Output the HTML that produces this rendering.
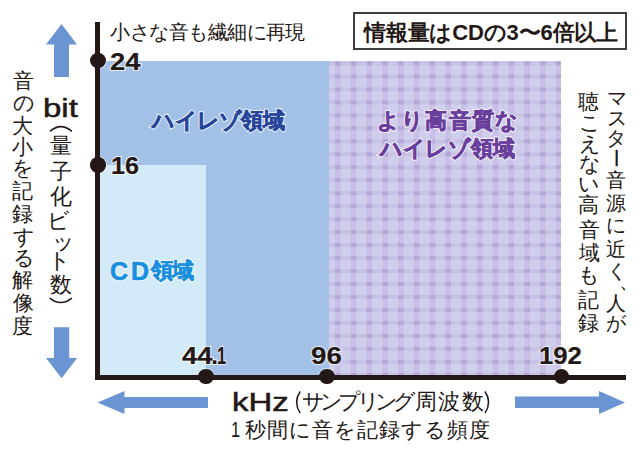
<!DOCTYPE html>
<html><head><meta charset="utf-8">
<style>
html,body{margin:0;padding:0;background:#fff;}
body{width:640px;height:452px;position:relative;overflow:hidden;font-family:"Liberation Sans",sans-serif;color:#231815;}
.a{position:absolute;white-space:nowrap;}
.t{line-height:1;transform-origin:0 0;}
</style></head><body>

<div class="a" style="left:97px;top:61px;width:232px;height:315px;background:#a3c1e6"></div>
<div class="a" style="left:97px;top:165px;width:109px;height:211px;background:#d3ebf9"></div>
<svg class="a" style="left:329px;top:61px" width="232" height="315">
<rect x="0" y="0" width="232" height="315" fill="#cfcfed"/>
<rect x="5.90" y="0" width="5.7" height="315" fill="#c8c1e5"/>
<rect x="21.68" y="0" width="5.7" height="315" fill="#c8c1e5"/>
<rect x="37.46" y="0" width="5.7" height="315" fill="#c8c1e5"/>
<rect x="53.24" y="0" width="5.7" height="315" fill="#c8c1e5"/>
<rect x="69.02" y="0" width="5.7" height="315" fill="#c8c1e5"/>
<rect x="84.80" y="0" width="5.7" height="315" fill="#c8c1e5"/>
<rect x="100.58" y="0" width="5.7" height="315" fill="#c8c1e5"/>
<rect x="116.36" y="0" width="5.7" height="315" fill="#c8c1e5"/>
<rect x="132.14" y="0" width="5.7" height="315" fill="#c8c1e5"/>
<rect x="147.92" y="0" width="5.7" height="315" fill="#c8c1e5"/>
<rect x="163.70" y="0" width="5.7" height="315" fill="#c8c1e5"/>
<rect x="179.48" y="0" width="5.7" height="315" fill="#c8c1e5"/>
<rect x="195.26" y="0" width="5.7" height="315" fill="#c8c1e5"/>
<rect x="211.04" y="0" width="5.7" height="315" fill="#c8c1e5"/>
<rect x="226.82" y="0" width="5.7" height="315" fill="#c8c1e5"/>
<rect x="0" y="0.50" width="232" height="4" fill="#cac2e5"/>
<rect x="0" y="13.47" width="232" height="4" fill="#cac2e5"/>
<rect x="0" y="26.44" width="232" height="4" fill="#cac2e5"/>
<rect x="0" y="39.41" width="232" height="4" fill="#cac2e5"/>
<rect x="0" y="52.38" width="232" height="4" fill="#cac2e5"/>
<rect x="0" y="65.35" width="232" height="4" fill="#cac2e5"/>
<rect x="0" y="78.32" width="232" height="4" fill="#cac2e5"/>
<rect x="0" y="91.29" width="232" height="4" fill="#cac2e5"/>
<rect x="0" y="104.26" width="232" height="4" fill="#cac2e5"/>
<rect x="0" y="117.23" width="232" height="4" fill="#cac2e5"/>
<rect x="0" y="130.20" width="232" height="4" fill="#cac2e5"/>
<rect x="0" y="143.17" width="232" height="4" fill="#cac2e5"/>
<rect x="0" y="156.14" width="232" height="4" fill="#cac2e5"/>
<rect x="0" y="169.11" width="232" height="4" fill="#cac2e5"/>
<rect x="0" y="182.08" width="232" height="4" fill="#cac2e5"/>
<rect x="0" y="195.05" width="232" height="4" fill="#cac2e5"/>
<rect x="0" y="208.02" width="232" height="4" fill="#cac2e5"/>
<rect x="0" y="220.99" width="232" height="4" fill="#cac2e5"/>
<rect x="0" y="233.96" width="232" height="4" fill="#cac2e5"/>
<rect x="0" y="246.93" width="232" height="4" fill="#cac2e5"/>
<rect x="0" y="259.90" width="232" height="4" fill="#cac2e5"/>
<rect x="0" y="272.87" width="232" height="4" fill="#cac2e5"/>
<rect x="0" y="285.84" width="232" height="4" fill="#cac2e5"/>
<rect x="0" y="298.81" width="232" height="4" fill="#cac2e5"/>
<rect x="0" y="311.78" width="232" height="4" fill="#cac2e5"/>
<rect x="5.90" y="0.50" width="5.7" height="4" fill="#b3a7da"/>
<rect x="5.90" y="13.47" width="5.7" height="4" fill="#b3a7da"/>
<rect x="5.90" y="26.44" width="5.7" height="4" fill="#b3a7da"/>
<rect x="5.90" y="39.41" width="5.7" height="4" fill="#b3a7da"/>
<rect x="5.90" y="52.38" width="5.7" height="4" fill="#b3a7da"/>
<rect x="5.90" y="65.35" width="5.7" height="4" fill="#b3a7da"/>
<rect x="5.90" y="78.32" width="5.7" height="4" fill="#b3a7da"/>
<rect x="5.90" y="91.29" width="5.7" height="4" fill="#b3a7da"/>
<rect x="5.90" y="104.26" width="5.7" height="4" fill="#b3a7da"/>
<rect x="5.90" y="117.23" width="5.7" height="4" fill="#b3a7da"/>
<rect x="5.90" y="130.20" width="5.7" height="4" fill="#b3a7da"/>
<rect x="5.90" y="143.17" width="5.7" height="4" fill="#b3a7da"/>
<rect x="5.90" y="156.14" width="5.7" height="4" fill="#b3a7da"/>
<rect x="5.90" y="169.11" width="5.7" height="4" fill="#b3a7da"/>
<rect x="5.90" y="182.08" width="5.7" height="4" fill="#b3a7da"/>
<rect x="5.90" y="195.05" width="5.7" height="4" fill="#b3a7da"/>
<rect x="5.90" y="208.02" width="5.7" height="4" fill="#b3a7da"/>
<rect x="5.90" y="220.99" width="5.7" height="4" fill="#b3a7da"/>
<rect x="5.90" y="233.96" width="5.7" height="4" fill="#b3a7da"/>
<rect x="5.90" y="246.93" width="5.7" height="4" fill="#b3a7da"/>
<rect x="5.90" y="259.90" width="5.7" height="4" fill="#b3a7da"/>
<rect x="5.90" y="272.87" width="5.7" height="4" fill="#b3a7da"/>
<rect x="5.90" y="285.84" width="5.7" height="4" fill="#b3a7da"/>
<rect x="5.90" y="298.81" width="5.7" height="4" fill="#b3a7da"/>
<rect x="5.90" y="311.78" width="5.7" height="4" fill="#b3a7da"/>
<rect x="21.68" y="0.50" width="5.7" height="4" fill="#b3a7da"/>
<rect x="21.68" y="13.47" width="5.7" height="4" fill="#b3a7da"/>
<rect x="21.68" y="26.44" width="5.7" height="4" fill="#b3a7da"/>
<rect x="21.68" y="39.41" width="5.7" height="4" fill="#b3a7da"/>
<rect x="21.68" y="52.38" width="5.7" height="4" fill="#b3a7da"/>
<rect x="21.68" y="65.35" width="5.7" height="4" fill="#b3a7da"/>
<rect x="21.68" y="78.32" width="5.7" height="4" fill="#b3a7da"/>
<rect x="21.68" y="91.29" width="5.7" height="4" fill="#b3a7da"/>
<rect x="21.68" y="104.26" width="5.7" height="4" fill="#b3a7da"/>
<rect x="21.68" y="117.23" width="5.7" height="4" fill="#b3a7da"/>
<rect x="21.68" y="130.20" width="5.7" height="4" fill="#b3a7da"/>
<rect x="21.68" y="143.17" width="5.7" height="4" fill="#b3a7da"/>
<rect x="21.68" y="156.14" width="5.7" height="4" fill="#b3a7da"/>
<rect x="21.68" y="169.11" width="5.7" height="4" fill="#b3a7da"/>
<rect x="21.68" y="182.08" width="5.7" height="4" fill="#b3a7da"/>
<rect x="21.68" y="195.05" width="5.7" height="4" fill="#b3a7da"/>
<rect x="21.68" y="208.02" width="5.7" height="4" fill="#b3a7da"/>
<rect x="21.68" y="220.99" width="5.7" height="4" fill="#b3a7da"/>
<rect x="21.68" y="233.96" width="5.7" height="4" fill="#b3a7da"/>
<rect x="21.68" y="246.93" width="5.7" height="4" fill="#b3a7da"/>
<rect x="21.68" y="259.90" width="5.7" height="4" fill="#b3a7da"/>
<rect x="21.68" y="272.87" width="5.7" height="4" fill="#b3a7da"/>
<rect x="21.68" y="285.84" width="5.7" height="4" fill="#b3a7da"/>
<rect x="21.68" y="298.81" width="5.7" height="4" fill="#b3a7da"/>
<rect x="21.68" y="311.78" width="5.7" height="4" fill="#b3a7da"/>
<rect x="37.46" y="0.50" width="5.7" height="4" fill="#b3a7da"/>
<rect x="37.46" y="13.47" width="5.7" height="4" fill="#b3a7da"/>
<rect x="37.46" y="26.44" width="5.7" height="4" fill="#b3a7da"/>
<rect x="37.46" y="39.41" width="5.7" height="4" fill="#b3a7da"/>
<rect x="37.46" y="52.38" width="5.7" height="4" fill="#b3a7da"/>
<rect x="37.46" y="65.35" width="5.7" height="4" fill="#b3a7da"/>
<rect x="37.46" y="78.32" width="5.7" height="4" fill="#b3a7da"/>
<rect x="37.46" y="91.29" width="5.7" height="4" fill="#b3a7da"/>
<rect x="37.46" y="104.26" width="5.7" height="4" fill="#b3a7da"/>
<rect x="37.46" y="117.23" width="5.7" height="4" fill="#b3a7da"/>
<rect x="37.46" y="130.20" width="5.7" height="4" fill="#b3a7da"/>
<rect x="37.46" y="143.17" width="5.7" height="4" fill="#b3a7da"/>
<rect x="37.46" y="156.14" width="5.7" height="4" fill="#b3a7da"/>
<rect x="37.46" y="169.11" width="5.7" height="4" fill="#b3a7da"/>
<rect x="37.46" y="182.08" width="5.7" height="4" fill="#b3a7da"/>
<rect x="37.46" y="195.05" width="5.7" height="4" fill="#b3a7da"/>
<rect x="37.46" y="208.02" width="5.7" height="4" fill="#b3a7da"/>
<rect x="37.46" y="220.99" width="5.7" height="4" fill="#b3a7da"/>
<rect x="37.46" y="233.96" width="5.7" height="4" fill="#b3a7da"/>
<rect x="37.46" y="246.93" width="5.7" height="4" fill="#b3a7da"/>
<rect x="37.46" y="259.90" width="5.7" height="4" fill="#b3a7da"/>
<rect x="37.46" y="272.87" width="5.7" height="4" fill="#b3a7da"/>
<rect x="37.46" y="285.84" width="5.7" height="4" fill="#b3a7da"/>
<rect x="37.46" y="298.81" width="5.7" height="4" fill="#b3a7da"/>
<rect x="37.46" y="311.78" width="5.7" height="4" fill="#b3a7da"/>
<rect x="53.24" y="0.50" width="5.7" height="4" fill="#b3a7da"/>
<rect x="53.24" y="13.47" width="5.7" height="4" fill="#b3a7da"/>
<rect x="53.24" y="26.44" width="5.7" height="4" fill="#b3a7da"/>
<rect x="53.24" y="39.41" width="5.7" height="4" fill="#b3a7da"/>
<rect x="53.24" y="52.38" width="5.7" height="4" fill="#b3a7da"/>
<rect x="53.24" y="65.35" width="5.7" height="4" fill="#b3a7da"/>
<rect x="53.24" y="78.32" width="5.7" height="4" fill="#b3a7da"/>
<rect x="53.24" y="91.29" width="5.7" height="4" fill="#b3a7da"/>
<rect x="53.24" y="104.26" width="5.7" height="4" fill="#b3a7da"/>
<rect x="53.24" y="117.23" width="5.7" height="4" fill="#b3a7da"/>
<rect x="53.24" y="130.20" width="5.7" height="4" fill="#b3a7da"/>
<rect x="53.24" y="143.17" width="5.7" height="4" fill="#b3a7da"/>
<rect x="53.24" y="156.14" width="5.7" height="4" fill="#b3a7da"/>
<rect x="53.24" y="169.11" width="5.7" height="4" fill="#b3a7da"/>
<rect x="53.24" y="182.08" width="5.7" height="4" fill="#b3a7da"/>
<rect x="53.24" y="195.05" width="5.7" height="4" fill="#b3a7da"/>
<rect x="53.24" y="208.02" width="5.7" height="4" fill="#b3a7da"/>
<rect x="53.24" y="220.99" width="5.7" height="4" fill="#b3a7da"/>
<rect x="53.24" y="233.96" width="5.7" height="4" fill="#b3a7da"/>
<rect x="53.24" y="246.93" width="5.7" height="4" fill="#b3a7da"/>
<rect x="53.24" y="259.90" width="5.7" height="4" fill="#b3a7da"/>
<rect x="53.24" y="272.87" width="5.7" height="4" fill="#b3a7da"/>
<rect x="53.24" y="285.84" width="5.7" height="4" fill="#b3a7da"/>
<rect x="53.24" y="298.81" width="5.7" height="4" fill="#b3a7da"/>
<rect x="53.24" y="311.78" width="5.7" height="4" fill="#b3a7da"/>
<rect x="69.02" y="0.50" width="5.7" height="4" fill="#b3a7da"/>
<rect x="69.02" y="13.47" width="5.7" height="4" fill="#b3a7da"/>
<rect x="69.02" y="26.44" width="5.7" height="4" fill="#b3a7da"/>
<rect x="69.02" y="39.41" width="5.7" height="4" fill="#b3a7da"/>
<rect x="69.02" y="52.38" width="5.7" height="4" fill="#b3a7da"/>
<rect x="69.02" y="65.35" width="5.7" height="4" fill="#b3a7da"/>
<rect x="69.02" y="78.32" width="5.7" height="4" fill="#b3a7da"/>
<rect x="69.02" y="91.29" width="5.7" height="4" fill="#b3a7da"/>
<rect x="69.02" y="104.26" width="5.7" height="4" fill="#b3a7da"/>
<rect x="69.02" y="117.23" width="5.7" height="4" fill="#b3a7da"/>
<rect x="69.02" y="130.20" width="5.7" height="4" fill="#b3a7da"/>
<rect x="69.02" y="143.17" width="5.7" height="4" fill="#b3a7da"/>
<rect x="69.02" y="156.14" width="5.7" height="4" fill="#b3a7da"/>
<rect x="69.02" y="169.11" width="5.7" height="4" fill="#b3a7da"/>
<rect x="69.02" y="182.08" width="5.7" height="4" fill="#b3a7da"/>
<rect x="69.02" y="195.05" width="5.7" height="4" fill="#b3a7da"/>
<rect x="69.02" y="208.02" width="5.7" height="4" fill="#b3a7da"/>
<rect x="69.02" y="220.99" width="5.7" height="4" fill="#b3a7da"/>
<rect x="69.02" y="233.96" width="5.7" height="4" fill="#b3a7da"/>
<rect x="69.02" y="246.93" width="5.7" height="4" fill="#b3a7da"/>
<rect x="69.02" y="259.90" width="5.7" height="4" fill="#b3a7da"/>
<rect x="69.02" y="272.87" width="5.7" height="4" fill="#b3a7da"/>
<rect x="69.02" y="285.84" width="5.7" height="4" fill="#b3a7da"/>
<rect x="69.02" y="298.81" width="5.7" height="4" fill="#b3a7da"/>
<rect x="69.02" y="311.78" width="5.7" height="4" fill="#b3a7da"/>
<rect x="84.80" y="0.50" width="5.7" height="4" fill="#b3a7da"/>
<rect x="84.80" y="13.47" width="5.7" height="4" fill="#b3a7da"/>
<rect x="84.80" y="26.44" width="5.7" height="4" fill="#b3a7da"/>
<rect x="84.80" y="39.41" width="5.7" height="4" fill="#b3a7da"/>
<rect x="84.80" y="52.38" width="5.7" height="4" fill="#b3a7da"/>
<rect x="84.80" y="65.35" width="5.7" height="4" fill="#b3a7da"/>
<rect x="84.80" y="78.32" width="5.7" height="4" fill="#b3a7da"/>
<rect x="84.80" y="91.29" width="5.7" height="4" fill="#b3a7da"/>
<rect x="84.80" y="104.26" width="5.7" height="4" fill="#b3a7da"/>
<rect x="84.80" y="117.23" width="5.7" height="4" fill="#b3a7da"/>
<rect x="84.80" y="130.20" width="5.7" height="4" fill="#b3a7da"/>
<rect x="84.80" y="143.17" width="5.7" height="4" fill="#b3a7da"/>
<rect x="84.80" y="156.14" width="5.7" height="4" fill="#b3a7da"/>
<rect x="84.80" y="169.11" width="5.7" height="4" fill="#b3a7da"/>
<rect x="84.80" y="182.08" width="5.7" height="4" fill="#b3a7da"/>
<rect x="84.80" y="195.05" width="5.7" height="4" fill="#b3a7da"/>
<rect x="84.80" y="208.02" width="5.7" height="4" fill="#b3a7da"/>
<rect x="84.80" y="220.99" width="5.7" height="4" fill="#b3a7da"/>
<rect x="84.80" y="233.96" width="5.7" height="4" fill="#b3a7da"/>
<rect x="84.80" y="246.93" width="5.7" height="4" fill="#b3a7da"/>
<rect x="84.80" y="259.90" width="5.7" height="4" fill="#b3a7da"/>
<rect x="84.80" y="272.87" width="5.7" height="4" fill="#b3a7da"/>
<rect x="84.80" y="285.84" width="5.7" height="4" fill="#b3a7da"/>
<rect x="84.80" y="298.81" width="5.7" height="4" fill="#b3a7da"/>
<rect x="84.80" y="311.78" width="5.7" height="4" fill="#b3a7da"/>
<rect x="100.58" y="0.50" width="5.7" height="4" fill="#b3a7da"/>
<rect x="100.58" y="13.47" width="5.7" height="4" fill="#b3a7da"/>
<rect x="100.58" y="26.44" width="5.7" height="4" fill="#b3a7da"/>
<rect x="100.58" y="39.41" width="5.7" height="4" fill="#b3a7da"/>
<rect x="100.58" y="52.38" width="5.7" height="4" fill="#b3a7da"/>
<rect x="100.58" y="65.35" width="5.7" height="4" fill="#b3a7da"/>
<rect x="100.58" y="78.32" width="5.7" height="4" fill="#b3a7da"/>
<rect x="100.58" y="91.29" width="5.7" height="4" fill="#b3a7da"/>
<rect x="100.58" y="104.26" width="5.7" height="4" fill="#b3a7da"/>
<rect x="100.58" y="117.23" width="5.7" height="4" fill="#b3a7da"/>
<rect x="100.58" y="130.20" width="5.7" height="4" fill="#b3a7da"/>
<rect x="100.58" y="143.17" width="5.7" height="4" fill="#b3a7da"/>
<rect x="100.58" y="156.14" width="5.7" height="4" fill="#b3a7da"/>
<rect x="100.58" y="169.11" width="5.7" height="4" fill="#b3a7da"/>
<rect x="100.58" y="182.08" width="5.7" height="4" fill="#b3a7da"/>
<rect x="100.58" y="195.05" width="5.7" height="4" fill="#b3a7da"/>
<rect x="100.58" y="208.02" width="5.7" height="4" fill="#b3a7da"/>
<rect x="100.58" y="220.99" width="5.7" height="4" fill="#b3a7da"/>
<rect x="100.58" y="233.96" width="5.7" height="4" fill="#b3a7da"/>
<rect x="100.58" y="246.93" width="5.7" height="4" fill="#b3a7da"/>
<rect x="100.58" y="259.90" width="5.7" height="4" fill="#b3a7da"/>
<rect x="100.58" y="272.87" width="5.7" height="4" fill="#b3a7da"/>
<rect x="100.58" y="285.84" width="5.7" height="4" fill="#b3a7da"/>
<rect x="100.58" y="298.81" width="5.7" height="4" fill="#b3a7da"/>
<rect x="100.58" y="311.78" width="5.7" height="4" fill="#b3a7da"/>
<rect x="116.36" y="0.50" width="5.7" height="4" fill="#b3a7da"/>
<rect x="116.36" y="13.47" width="5.7" height="4" fill="#b3a7da"/>
<rect x="116.36" y="26.44" width="5.7" height="4" fill="#b3a7da"/>
<rect x="116.36" y="39.41" width="5.7" height="4" fill="#b3a7da"/>
<rect x="116.36" y="52.38" width="5.7" height="4" fill="#b3a7da"/>
<rect x="116.36" y="65.35" width="5.7" height="4" fill="#b3a7da"/>
<rect x="116.36" y="78.32" width="5.7" height="4" fill="#b3a7da"/>
<rect x="116.36" y="91.29" width="5.7" height="4" fill="#b3a7da"/>
<rect x="116.36" y="104.26" width="5.7" height="4" fill="#b3a7da"/>
<rect x="116.36" y="117.23" width="5.7" height="4" fill="#b3a7da"/>
<rect x="116.36" y="130.20" width="5.7" height="4" fill="#b3a7da"/>
<rect x="116.36" y="143.17" width="5.7" height="4" fill="#b3a7da"/>
<rect x="116.36" y="156.14" width="5.7" height="4" fill="#b3a7da"/>
<rect x="116.36" y="169.11" width="5.7" height="4" fill="#b3a7da"/>
<rect x="116.36" y="182.08" width="5.7" height="4" fill="#b3a7da"/>
<rect x="116.36" y="195.05" width="5.7" height="4" fill="#b3a7da"/>
<rect x="116.36" y="208.02" width="5.7" height="4" fill="#b3a7da"/>
<rect x="116.36" y="220.99" width="5.7" height="4" fill="#b3a7da"/>
<rect x="116.36" y="233.96" width="5.7" height="4" fill="#b3a7da"/>
<rect x="116.36" y="246.93" width="5.7" height="4" fill="#b3a7da"/>
<rect x="116.36" y="259.90" width="5.7" height="4" fill="#b3a7da"/>
<rect x="116.36" y="272.87" width="5.7" height="4" fill="#b3a7da"/>
<rect x="116.36" y="285.84" width="5.7" height="4" fill="#b3a7da"/>
<rect x="116.36" y="298.81" width="5.7" height="4" fill="#b3a7da"/>
<rect x="116.36" y="311.78" width="5.7" height="4" fill="#b3a7da"/>
<rect x="132.14" y="0.50" width="5.7" height="4" fill="#b3a7da"/>
<rect x="132.14" y="13.47" width="5.7" height="4" fill="#b3a7da"/>
<rect x="132.14" y="26.44" width="5.7" height="4" fill="#b3a7da"/>
<rect x="132.14" y="39.41" width="5.7" height="4" fill="#b3a7da"/>
<rect x="132.14" y="52.38" width="5.7" height="4" fill="#b3a7da"/>
<rect x="132.14" y="65.35" width="5.7" height="4" fill="#b3a7da"/>
<rect x="132.14" y="78.32" width="5.7" height="4" fill="#b3a7da"/>
<rect x="132.14" y="91.29" width="5.7" height="4" fill="#b3a7da"/>
<rect x="132.14" y="104.26" width="5.7" height="4" fill="#b3a7da"/>
<rect x="132.14" y="117.23" width="5.7" height="4" fill="#b3a7da"/>
<rect x="132.14" y="130.20" width="5.7" height="4" fill="#b3a7da"/>
<rect x="132.14" y="143.17" width="5.7" height="4" fill="#b3a7da"/>
<rect x="132.14" y="156.14" width="5.7" height="4" fill="#b3a7da"/>
<rect x="132.14" y="169.11" width="5.7" height="4" fill="#b3a7da"/>
<rect x="132.14" y="182.08" width="5.7" height="4" fill="#b3a7da"/>
<rect x="132.14" y="195.05" width="5.7" height="4" fill="#b3a7da"/>
<rect x="132.14" y="208.02" width="5.7" height="4" fill="#b3a7da"/>
<rect x="132.14" y="220.99" width="5.7" height="4" fill="#b3a7da"/>
<rect x="132.14" y="233.96" width="5.7" height="4" fill="#b3a7da"/>
<rect x="132.14" y="246.93" width="5.7" height="4" fill="#b3a7da"/>
<rect x="132.14" y="259.90" width="5.7" height="4" fill="#b3a7da"/>
<rect x="132.14" y="272.87" width="5.7" height="4" fill="#b3a7da"/>
<rect x="132.14" y="285.84" width="5.7" height="4" fill="#b3a7da"/>
<rect x="132.14" y="298.81" width="5.7" height="4" fill="#b3a7da"/>
<rect x="132.14" y="311.78" width="5.7" height="4" fill="#b3a7da"/>
<rect x="147.92" y="0.50" width="5.7" height="4" fill="#b3a7da"/>
<rect x="147.92" y="13.47" width="5.7" height="4" fill="#b3a7da"/>
<rect x="147.92" y="26.44" width="5.7" height="4" fill="#b3a7da"/>
<rect x="147.92" y="39.41" width="5.7" height="4" fill="#b3a7da"/>
<rect x="147.92" y="52.38" width="5.7" height="4" fill="#b3a7da"/>
<rect x="147.92" y="65.35" width="5.7" height="4" fill="#b3a7da"/>
<rect x="147.92" y="78.32" width="5.7" height="4" fill="#b3a7da"/>
<rect x="147.92" y="91.29" width="5.7" height="4" fill="#b3a7da"/>
<rect x="147.92" y="104.26" width="5.7" height="4" fill="#b3a7da"/>
<rect x="147.92" y="117.23" width="5.7" height="4" fill="#b3a7da"/>
<rect x="147.92" y="130.20" width="5.7" height="4" fill="#b3a7da"/>
<rect x="147.92" y="143.17" width="5.7" height="4" fill="#b3a7da"/>
<rect x="147.92" y="156.14" width="5.7" height="4" fill="#b3a7da"/>
<rect x="147.92" y="169.11" width="5.7" height="4" fill="#b3a7da"/>
<rect x="147.92" y="182.08" width="5.7" height="4" fill="#b3a7da"/>
<rect x="147.92" y="195.05" width="5.7" height="4" fill="#b3a7da"/>
<rect x="147.92" y="208.02" width="5.7" height="4" fill="#b3a7da"/>
<rect x="147.92" y="220.99" width="5.7" height="4" fill="#b3a7da"/>
<rect x="147.92" y="233.96" width="5.7" height="4" fill="#b3a7da"/>
<rect x="147.92" y="246.93" width="5.7" height="4" fill="#b3a7da"/>
<rect x="147.92" y="259.90" width="5.7" height="4" fill="#b3a7da"/>
<rect x="147.92" y="272.87" width="5.7" height="4" fill="#b3a7da"/>
<rect x="147.92" y="285.84" width="5.7" height="4" fill="#b3a7da"/>
<rect x="147.92" y="298.81" width="5.7" height="4" fill="#b3a7da"/>
<rect x="147.92" y="311.78" width="5.7" height="4" fill="#b3a7da"/>
<rect x="163.70" y="0.50" width="5.7" height="4" fill="#b3a7da"/>
<rect x="163.70" y="13.47" width="5.7" height="4" fill="#b3a7da"/>
<rect x="163.70" y="26.44" width="5.7" height="4" fill="#b3a7da"/>
<rect x="163.70" y="39.41" width="5.7" height="4" fill="#b3a7da"/>
<rect x="163.70" y="52.38" width="5.7" height="4" fill="#b3a7da"/>
<rect x="163.70" y="65.35" width="5.7" height="4" fill="#b3a7da"/>
<rect x="163.70" y="78.32" width="5.7" height="4" fill="#b3a7da"/>
<rect x="163.70" y="91.29" width="5.7" height="4" fill="#b3a7da"/>
<rect x="163.70" y="104.26" width="5.7" height="4" fill="#b3a7da"/>
<rect x="163.70" y="117.23" width="5.7" height="4" fill="#b3a7da"/>
<rect x="163.70" y="130.20" width="5.7" height="4" fill="#b3a7da"/>
<rect x="163.70" y="143.17" width="5.7" height="4" fill="#b3a7da"/>
<rect x="163.70" y="156.14" width="5.7" height="4" fill="#b3a7da"/>
<rect x="163.70" y="169.11" width="5.7" height="4" fill="#b3a7da"/>
<rect x="163.70" y="182.08" width="5.7" height="4" fill="#b3a7da"/>
<rect x="163.70" y="195.05" width="5.7" height="4" fill="#b3a7da"/>
<rect x="163.70" y="208.02" width="5.7" height="4" fill="#b3a7da"/>
<rect x="163.70" y="220.99" width="5.7" height="4" fill="#b3a7da"/>
<rect x="163.70" y="233.96" width="5.7" height="4" fill="#b3a7da"/>
<rect x="163.70" y="246.93" width="5.7" height="4" fill="#b3a7da"/>
<rect x="163.70" y="259.90" width="5.7" height="4" fill="#b3a7da"/>
<rect x="163.70" y="272.87" width="5.7" height="4" fill="#b3a7da"/>
<rect x="163.70" y="285.84" width="5.7" height="4" fill="#b3a7da"/>
<rect x="163.70" y="298.81" width="5.7" height="4" fill="#b3a7da"/>
<rect x="163.70" y="311.78" width="5.7" height="4" fill="#b3a7da"/>
<rect x="179.48" y="0.50" width="5.7" height="4" fill="#b3a7da"/>
<rect x="179.48" y="13.47" width="5.7" height="4" fill="#b3a7da"/>
<rect x="179.48" y="26.44" width="5.7" height="4" fill="#b3a7da"/>
<rect x="179.48" y="39.41" width="5.7" height="4" fill="#b3a7da"/>
<rect x="179.48" y="52.38" width="5.7" height="4" fill="#b3a7da"/>
<rect x="179.48" y="65.35" width="5.7" height="4" fill="#b3a7da"/>
<rect x="179.48" y="78.32" width="5.7" height="4" fill="#b3a7da"/>
<rect x="179.48" y="91.29" width="5.7" height="4" fill="#b3a7da"/>
<rect x="179.48" y="104.26" width="5.7" height="4" fill="#b3a7da"/>
<rect x="179.48" y="117.23" width="5.7" height="4" fill="#b3a7da"/>
<rect x="179.48" y="130.20" width="5.7" height="4" fill="#b3a7da"/>
<rect x="179.48" y="143.17" width="5.7" height="4" fill="#b3a7da"/>
<rect x="179.48" y="156.14" width="5.7" height="4" fill="#b3a7da"/>
<rect x="179.48" y="169.11" width="5.7" height="4" fill="#b3a7da"/>
<rect x="179.48" y="182.08" width="5.7" height="4" fill="#b3a7da"/>
<rect x="179.48" y="195.05" width="5.7" height="4" fill="#b3a7da"/>
<rect x="179.48" y="208.02" width="5.7" height="4" fill="#b3a7da"/>
<rect x="179.48" y="220.99" width="5.7" height="4" fill="#b3a7da"/>
<rect x="179.48" y="233.96" width="5.7" height="4" fill="#b3a7da"/>
<rect x="179.48" y="246.93" width="5.7" height="4" fill="#b3a7da"/>
<rect x="179.48" y="259.90" width="5.7" height="4" fill="#b3a7da"/>
<rect x="179.48" y="272.87" width="5.7" height="4" fill="#b3a7da"/>
<rect x="179.48" y="285.84" width="5.7" height="4" fill="#b3a7da"/>
<rect x="179.48" y="298.81" width="5.7" height="4" fill="#b3a7da"/>
<rect x="179.48" y="311.78" width="5.7" height="4" fill="#b3a7da"/>
<rect x="195.26" y="0.50" width="5.7" height="4" fill="#b3a7da"/>
<rect x="195.26" y="13.47" width="5.7" height="4" fill="#b3a7da"/>
<rect x="195.26" y="26.44" width="5.7" height="4" fill="#b3a7da"/>
<rect x="195.26" y="39.41" width="5.7" height="4" fill="#b3a7da"/>
<rect x="195.26" y="52.38" width="5.7" height="4" fill="#b3a7da"/>
<rect x="195.26" y="65.35" width="5.7" height="4" fill="#b3a7da"/>
<rect x="195.26" y="78.32" width="5.7" height="4" fill="#b3a7da"/>
<rect x="195.26" y="91.29" width="5.7" height="4" fill="#b3a7da"/>
<rect x="195.26" y="104.26" width="5.7" height="4" fill="#b3a7da"/>
<rect x="195.26" y="117.23" width="5.7" height="4" fill="#b3a7da"/>
<rect x="195.26" y="130.20" width="5.7" height="4" fill="#b3a7da"/>
<rect x="195.26" y="143.17" width="5.7" height="4" fill="#b3a7da"/>
<rect x="195.26" y="156.14" width="5.7" height="4" fill="#b3a7da"/>
<rect x="195.26" y="169.11" width="5.7" height="4" fill="#b3a7da"/>
<rect x="195.26" y="182.08" width="5.7" height="4" fill="#b3a7da"/>
<rect x="195.26" y="195.05" width="5.7" height="4" fill="#b3a7da"/>
<rect x="195.26" y="208.02" width="5.7" height="4" fill="#b3a7da"/>
<rect x="195.26" y="220.99" width="5.7" height="4" fill="#b3a7da"/>
<rect x="195.26" y="233.96" width="5.7" height="4" fill="#b3a7da"/>
<rect x="195.26" y="246.93" width="5.7" height="4" fill="#b3a7da"/>
<rect x="195.26" y="259.90" width="5.7" height="4" fill="#b3a7da"/>
<rect x="195.26" y="272.87" width="5.7" height="4" fill="#b3a7da"/>
<rect x="195.26" y="285.84" width="5.7" height="4" fill="#b3a7da"/>
<rect x="195.26" y="298.81" width="5.7" height="4" fill="#b3a7da"/>
<rect x="195.26" y="311.78" width="5.7" height="4" fill="#b3a7da"/>
<rect x="211.04" y="0.50" width="5.7" height="4" fill="#b3a7da"/>
<rect x="211.04" y="13.47" width="5.7" height="4" fill="#b3a7da"/>
<rect x="211.04" y="26.44" width="5.7" height="4" fill="#b3a7da"/>
<rect x="211.04" y="39.41" width="5.7" height="4" fill="#b3a7da"/>
<rect x="211.04" y="52.38" width="5.7" height="4" fill="#b3a7da"/>
<rect x="211.04" y="65.35" width="5.7" height="4" fill="#b3a7da"/>
<rect x="211.04" y="78.32" width="5.7" height="4" fill="#b3a7da"/>
<rect x="211.04" y="91.29" width="5.7" height="4" fill="#b3a7da"/>
<rect x="211.04" y="104.26" width="5.7" height="4" fill="#b3a7da"/>
<rect x="211.04" y="117.23" width="5.7" height="4" fill="#b3a7da"/>
<rect x="211.04" y="130.20" width="5.7" height="4" fill="#b3a7da"/>
<rect x="211.04" y="143.17" width="5.7" height="4" fill="#b3a7da"/>
<rect x="211.04" y="156.14" width="5.7" height="4" fill="#b3a7da"/>
<rect x="211.04" y="169.11" width="5.7" height="4" fill="#b3a7da"/>
<rect x="211.04" y="182.08" width="5.7" height="4" fill="#b3a7da"/>
<rect x="211.04" y="195.05" width="5.7" height="4" fill="#b3a7da"/>
<rect x="211.04" y="208.02" width="5.7" height="4" fill="#b3a7da"/>
<rect x="211.04" y="220.99" width="5.7" height="4" fill="#b3a7da"/>
<rect x="211.04" y="233.96" width="5.7" height="4" fill="#b3a7da"/>
<rect x="211.04" y="246.93" width="5.7" height="4" fill="#b3a7da"/>
<rect x="211.04" y="259.90" width="5.7" height="4" fill="#b3a7da"/>
<rect x="211.04" y="272.87" width="5.7" height="4" fill="#b3a7da"/>
<rect x="211.04" y="285.84" width="5.7" height="4" fill="#b3a7da"/>
<rect x="211.04" y="298.81" width="5.7" height="4" fill="#b3a7da"/>
<rect x="211.04" y="311.78" width="5.7" height="4" fill="#b3a7da"/>
<rect x="226.82" y="0.50" width="5.7" height="4" fill="#b3a7da"/>
<rect x="226.82" y="13.47" width="5.7" height="4" fill="#b3a7da"/>
<rect x="226.82" y="26.44" width="5.7" height="4" fill="#b3a7da"/>
<rect x="226.82" y="39.41" width="5.7" height="4" fill="#b3a7da"/>
<rect x="226.82" y="52.38" width="5.7" height="4" fill="#b3a7da"/>
<rect x="226.82" y="65.35" width="5.7" height="4" fill="#b3a7da"/>
<rect x="226.82" y="78.32" width="5.7" height="4" fill="#b3a7da"/>
<rect x="226.82" y="91.29" width="5.7" height="4" fill="#b3a7da"/>
<rect x="226.82" y="104.26" width="5.7" height="4" fill="#b3a7da"/>
<rect x="226.82" y="117.23" width="5.7" height="4" fill="#b3a7da"/>
<rect x="226.82" y="130.20" width="5.7" height="4" fill="#b3a7da"/>
<rect x="226.82" y="143.17" width="5.7" height="4" fill="#b3a7da"/>
<rect x="226.82" y="156.14" width="5.7" height="4" fill="#b3a7da"/>
<rect x="226.82" y="169.11" width="5.7" height="4" fill="#b3a7da"/>
<rect x="226.82" y="182.08" width="5.7" height="4" fill="#b3a7da"/>
<rect x="226.82" y="195.05" width="5.7" height="4" fill="#b3a7da"/>
<rect x="226.82" y="208.02" width="5.7" height="4" fill="#b3a7da"/>
<rect x="226.82" y="220.99" width="5.7" height="4" fill="#b3a7da"/>
<rect x="226.82" y="233.96" width="5.7" height="4" fill="#b3a7da"/>
<rect x="226.82" y="246.93" width="5.7" height="4" fill="#b3a7da"/>
<rect x="226.82" y="259.90" width="5.7" height="4" fill="#b3a7da"/>
<rect x="226.82" y="272.87" width="5.7" height="4" fill="#b3a7da"/>
<rect x="226.82" y="285.84" width="5.7" height="4" fill="#b3a7da"/>
<rect x="226.82" y="298.81" width="5.7" height="4" fill="#b3a7da"/>
<rect x="226.82" y="311.78" width="5.7" height="4" fill="#b3a7da"/>
</svg>


<div class="a" style="left:90.00px;top:52.80px;width:15.6px;height:15.6px;border-radius:50%;background:#231815;box-shadow:0 0 0 1px rgba(255,255,255,.55)"></div>
<div class="a" style="left:90.00px;top:157.00px;width:15.6px;height:15.6px;border-radius:50%;background:#231815;box-shadow:0 0 0 1px rgba(255,255,255,.55)"></div>
<div class="a" style="left:198.00px;top:368.80px;width:15.6px;height:15.6px;border-radius:50%;background:#231815;box-shadow:0 0 0 1px rgba(255,255,255,.55)"></div>
<div class="a" style="left:319.20px;top:368.80px;width:15.6px;height:15.6px;border-radius:50%;background:#231815;box-shadow:0 0 0 1px rgba(255,255,255,.55)"></div>
<div class="a" style="left:553.80px;top:368.80px;width:15.6px;height:15.6px;border-radius:50%;background:#231815;box-shadow:0 0 0 1px rgba(255,255,255,.55)"></div>

<div class="a" style="left:95px;top:22px;width:5px;height:357px;background:#231815"></div>
<div class="a" style="left:95px;top:374.5px;width:531px;height:5px;background:#231815"></div>

<svg class="a" style="left:0;top:0" width="640" height="452">
 <g fill="#6a94d2">
  <polygon points="61.5,24 77,44.5 69,44.5 69,77 54,77 54,44.5 46,44.5"/>
  <polygon points="61.6,378.2 77.2,358 69.2,358 69.2,327.2 53.9,327.2 53.9,358 46,358"/>
  <polygon points="97.5,402.5 124.5,391 124.5,397 208,397 208,408 124.5,408 124.5,414"/>
  <polygon points="625,402.5 599,391 599,396.5 515,396.5 515,408 599,408 599,414"/>
 </g>
 <g fill="none" stroke="#231815" stroke-width="1.5">
  <path d="M50,131.4 Q60.8,121.8 71.9,131.4"/><path d="M49.7,298.1 Q60.8,306.9 71.9,298.1"/>
  <path d="M300.2,391.5 Q293,402.3 300.2,413.1"/><path d="M485,391.5 Q492.2,402.3 485,413.1"/>
 </g>
</svg>

<div class="a" style="left:353px;top:12px;width:270px;height:34px;border:2px solid #433b3b;"></div>
<div class="a t" style="left:364.0px;top:21.5px;font-size:22.0px;font-weight:bold;letter-spacing:-0.17px;color:#231815;">情報量はCDの3〜6倍以上</div>
<div class="a t" style="left:110.25px;top:21.95px;font-size:20.0px;font-weight:normal;letter-spacing:-0.53px;color:#231815;">小さな音も繊細に再現</div>

<div class="a t" style="left:109.79px;top:49.9px;font-size:24.57px;font-weight:bold;letter-spacing:0.0px;transform:scaleX(1.112);color:rgba(255,255,255,.75);-webkit-text-stroke:2.2px rgba(255,255,255,.75);">24</div>
<div class="a t" style="left:111.33px;top:154.9px;font-size:23.44px;font-weight:bold;letter-spacing:0.0px;transform:scaleX(1.075);color:rgba(255,255,255,.75);-webkit-text-stroke:2.2px rgba(255,255,255,.75);">16</div>
<div class="a t" style="left:182.0px;top:345.45px;font-size:23.72px;font-weight:bold;letter-spacing:0.0px;transform:scaleX(1.154);color:rgba(255,255,255,.75);-webkit-text-stroke:2.2px rgba(255,255,255,.75);">44</div>
<div class="a t" style="left:211.35px;top:345.3px;font-size:23.72px;font-weight:bold;letter-spacing:0.0px;color:rgba(255,255,255,.75);-webkit-text-stroke:2.2px rgba(255,255,255,.75);">.</div>
<div class="a t" style="left:217.41px;top:345.45px;font-size:23.72px;font-weight:bold;letter-spacing:0.0px;transform:scaleX(0.692);color:rgba(255,255,255,.75);-webkit-text-stroke:2.2px rgba(255,255,255,.75);">1</div>
<div class="a t" style="left:310.57px;top:344.1px;font-size:24.57px;font-weight:bold;letter-spacing:0.0px;transform:scaleX(1.127);color:rgba(255,255,255,.75);-webkit-text-stroke:2.2px rgba(255,255,255,.75);">96</div>
<div class="a t" style="left:538.72px;top:344.95px;font-size:23.72px;font-weight:bold;letter-spacing:0.0px;transform:scaleX(1.084);color:rgba(255,255,255,.75);-webkit-text-stroke:2.2px rgba(255,255,255,.75);">192</div>
<div class="a t" style="left:152.25px;top:110.12px;font-size:22.0px;font-weight:bold;letter-spacing:-0.75px;color:rgba(255,255,255,.75);-webkit-text-stroke:2.6px rgba(255,255,255,.75);">ハイレゾ領域</div>
<div class="a t" style="left:109.9px;top:259.6px;font-size:24.85px;font-weight:bold;letter-spacing:3.11px;transform:scaleX(1.003);color:rgba(255,255,255,.75);-webkit-text-stroke:2.7px rgba(255,255,255,.75);">CD</div>
<div class="a t" style="left:151.0px;top:260.1px;font-size:22.0px;font-weight:bold;letter-spacing:-0.6px;color:rgba(255,255,255,.75);-webkit-text-stroke:2.6px rgba(255,255,255,.75);">領域</div>
<div class="a t" style="left:376.75px;top:110.12px;font-size:22.0px;font-weight:bold;letter-spacing:1.3px;color:rgba(255,255,255,.75);-webkit-text-stroke:2.7px rgba(255,255,255,.75);">より高音質な</div>
<div class="a t" style="left:379.75px;top:137.62px;font-size:22.0px;font-weight:bold;letter-spacing:-0.25px;color:rgba(255,255,255,.75);-webkit-text-stroke:2.7px rgba(255,255,255,.75);">ハイレゾ領域</div>
<div class="a t" style="left:109.79px;top:49.9px;font-size:24.57px;font-weight:bold;letter-spacing:0.0px;transform:scaleX(1.112);color:#231815;-webkit-text-stroke:0.2px #231815;">24</div>
<div class="a t" style="left:111.33px;top:154.9px;font-size:23.44px;font-weight:bold;letter-spacing:0.0px;transform:scaleX(1.075);color:#231815;-webkit-text-stroke:0.2px #231815;">16</div>
<div class="a t" style="left:182.0px;top:345.45px;font-size:23.72px;font-weight:bold;letter-spacing:0.0px;transform:scaleX(1.154);color:#231815;-webkit-text-stroke:0.2px #231815;">44</div>
<div class="a t" style="left:211.35px;top:345.3px;font-size:23.72px;font-weight:bold;letter-spacing:0.0px;color:#231815;-webkit-text-stroke:0.2px #231815;">.</div>
<div class="a t" style="left:217.41px;top:345.45px;font-size:23.72px;font-weight:bold;letter-spacing:0.0px;transform:scaleX(0.692);color:#231815;-webkit-text-stroke:0.2px #231815;">1</div>
<div class="a t" style="left:310.57px;top:344.1px;font-size:24.57px;font-weight:bold;letter-spacing:0.0px;transform:scaleX(1.127);color:#231815;-webkit-text-stroke:0.2px #231815;">96</div>
<div class="a t" style="left:538.72px;top:344.95px;font-size:23.72px;font-weight:bold;letter-spacing:0.0px;transform:scaleX(1.084);color:#231815;-webkit-text-stroke:0.2px #231815;">192</div>

<div class="a t" style="left:152.25px;top:110.12px;font-size:22.0px;font-weight:bold;letter-spacing:-0.75px;color:#27459a;-webkit-text-stroke:0.6px #27459a;">ハイレゾ領域</div>
<div class="a t" style="left:109.9px;top:259.6px;font-size:24.85px;font-weight:bold;letter-spacing:3.11px;transform:scaleX(1.003);color:#1a8fdf;-webkit-text-stroke:0.7px #1a8fdf;">CD</div>
<div class="a t" style="left:151.0px;top:260.1px;font-size:22.0px;font-weight:bold;letter-spacing:-0.6px;color:#1a8fdf;-webkit-text-stroke:0.6px #1a8fdf;">領域</div>
<div class="a t" style="left:376.75px;top:110.12px;font-size:22.0px;font-weight:bold;letter-spacing:1.3px;color:#6a3e9c;-webkit-text-stroke:0.7px #6a3e9c;">より高音質な</div>
<div class="a t" style="left:379.75px;top:137.62px;font-size:22.0px;font-weight:bold;letter-spacing:-0.25px;color:#6a3e9c;-webkit-text-stroke:0.7px #6a3e9c;">ハイレゾ領域</div>

<div class="a" style="left:8.30px;top:66.10px;width:30px;height:30px;line-height:30px;text-align:center;font-size:21px;"><span style="display:inline-block;">音</span></div>
<div class="a" style="left:8.80px;top:88.20px;width:30px;height:30px;line-height:30px;text-align:center;font-size:21px;"><span style="display:inline-block;">の</span></div>
<div class="a" style="left:7.80px;top:110.50px;width:30px;height:30px;line-height:30px;text-align:center;font-size:21px;"><span style="display:inline-block;">大</span></div>
<div class="a" style="left:7.80px;top:131.70px;width:30px;height:30px;line-height:30px;text-align:center;font-size:21px;"><span style="display:inline-block;">小</span></div>
<div class="a" style="left:8.30px;top:153.30px;width:30px;height:30px;line-height:30px;text-align:center;font-size:21px;"><span style="display:inline-block;">を</span></div>
<div class="a" style="left:7.80px;top:175.90px;width:30px;height:30px;line-height:30px;text-align:center;font-size:21px;"><span style="display:inline-block;">記</span></div>
<div class="a" style="left:7.80px;top:199.20px;width:30px;height:30px;line-height:30px;text-align:center;font-size:21px;"><span style="display:inline-block;">録</span></div>
<div class="a" style="left:8.80px;top:222.10px;width:30px;height:30px;line-height:30px;text-align:center;font-size:21px;"><span style="display:inline-block;">す</span></div>
<div class="a" style="left:8.80px;top:243.00px;width:30px;height:30px;line-height:30px;text-align:center;font-size:21px;"><span style="display:inline-block;">る</span></div>
<div class="a" style="left:7.80px;top:264.60px;width:30px;height:30px;line-height:30px;text-align:center;font-size:21px;"><span style="display:inline-block;">解</span></div>
<div class="a" style="left:8.30px;top:287.60px;width:30px;height:30px;line-height:30px;text-align:center;font-size:21px;"><span style="display:inline-block;">像</span></div>
<div class="a" style="left:7.80px;top:311.10px;width:30px;height:30px;line-height:30px;text-align:center;font-size:21px;"><span style="display:inline-block;">度</span></div>
<div class="a t" style="left:43.31px;top:96.4px;font-size:25.46px;font-weight:normal;letter-spacing:0.0px;transform:scaleX(1.296);color:#231815;-webkit-text-stroke:0.5px #231815;">bit</div>
<div class="a" style="left:46.00px;top:131.00px;width:30px;height:30px;line-height:30px;text-align:center;font-size:22px;"><span style="display:inline-block;">量</span></div>
<div class="a" style="left:46.00px;top:156.50px;width:30px;height:30px;line-height:30px;text-align:center;font-size:22px;"><span style="display:inline-block;">子</span></div>
<div class="a" style="left:45.50px;top:182.40px;width:30px;height:30px;line-height:30px;text-align:center;font-size:22px;"><span style="display:inline-block;">化</span></div>
<div class="a" style="left:43.70px;top:205.50px;width:30px;height:30px;line-height:30px;text-align:center;font-size:22px;"><span style="display:inline-block;">ビ</span></div>
<div class="a" style="left:48.00px;top:227.00px;width:30px;height:30px;line-height:30px;text-align:center;font-size:22px;"><span style="display:inline-block;">ッ</span></div>
<div class="a" style="left:44.80px;top:246.00px;width:30px;height:30px;line-height:30px;text-align:center;font-size:22px;"><span style="display:inline-block;">ト</span></div>
<div class="a" style="left:46.30px;top:270.00px;width:30px;height:30px;line-height:30px;text-align:center;font-size:22px;"><span style="display:inline-block;">数</span></div>

<div class="a" style="left:601.70px;top:82.90px;width:30px;height:30px;line-height:30px;text-align:center;font-size:20px;"><span style="display:inline-block;">マ</span></div>
<div class="a" style="left:601.70px;top:102.90px;width:30px;height:30px;line-height:30px;text-align:center;font-size:20px;"><span style="display:inline-block;">ス</span></div>
<div class="a" style="left:601.20px;top:122.50px;width:30px;height:30px;line-height:30px;text-align:center;font-size:20px;"><span style="display:inline-block;">タ</span></div>
<div class="a" style="left:600.70px;top:143.20px;width:30px;height:30px;line-height:30px;text-align:center;font-size:20px;"><span style="display:inline-block;transform:rotate(90deg);">ー</span></div>
<div class="a" style="left:601.20px;top:165.10px;width:30px;height:30px;line-height:30px;text-align:center;font-size:20px;"><span style="display:inline-block;">音</span></div>
<div class="a" style="left:601.20px;top:188.00px;width:30px;height:30px;line-height:30px;text-align:center;font-size:20px;"><span style="display:inline-block;">源</span></div>
<div class="a" style="left:601.20px;top:210.30px;width:30px;height:30px;line-height:30px;text-align:center;font-size:20px;"><span style="display:inline-block;">に</span></div>
<div class="a" style="left:601.20px;top:233.90px;width:30px;height:30px;line-height:30px;text-align:center;font-size:20px;"><span style="display:inline-block;">近</span></div>
<div class="a" style="left:602.20px;top:256.40px;width:30px;height:30px;line-height:30px;text-align:center;font-size:20px;"><span style="display:inline-block;">く</span></div>
<div class="a" style="left:614.00px;top:265.90px;width:30px;height:30px;line-height:30px;text-align:center;font-size:20px;"><span style="display:inline-block;">、</span></div>
<div class="a" style="left:601.40px;top:287.70px;width:30px;height:30px;line-height:30px;text-align:center;font-size:20px;"><span style="display:inline-block;">人</span></div>
<div class="a" style="left:600.70px;top:308.20px;width:30px;height:30px;line-height:30px;text-align:center;font-size:20px;"><span style="display:inline-block;">が</span></div>
<div class="a" style="left:573.80px;top:86.90px;width:30px;height:30px;line-height:30px;text-align:center;font-size:20.5px;"><span style="display:inline-block;">聴</span></div>
<div class="a" style="left:575.30px;top:108.00px;width:30px;height:30px;line-height:30px;text-align:center;font-size:20.5px;"><span style="display:inline-block;">こ</span></div>
<div class="a" style="left:574.80px;top:128.50px;width:30px;height:30px;line-height:30px;text-align:center;font-size:20.5px;"><span style="display:inline-block;">え</span></div>
<div class="a" style="left:575.30px;top:149.00px;width:30px;height:30px;line-height:30px;text-align:center;font-size:20.5px;"><span style="display:inline-block;">な</span></div>
<div class="a" style="left:574.30px;top:168.50px;width:30px;height:30px;line-height:30px;text-align:center;font-size:20.5px;"><span style="display:inline-block;">い</span></div>
<div class="a" style="left:573.80px;top:189.50px;width:30px;height:30px;line-height:30px;text-align:center;font-size:20.5px;"><span style="display:inline-block;">高</span></div>
<div class="a" style="left:574.30px;top:215.40px;width:30px;height:30px;line-height:30px;text-align:center;font-size:20.5px;"><span style="display:inline-block;">音</span></div>
<div class="a" style="left:574.30px;top:238.40px;width:30px;height:30px;line-height:30px;text-align:center;font-size:20.5px;"><span style="display:inline-block;">域</span></div>
<div class="a" style="left:574.30px;top:260.30px;width:30px;height:30px;line-height:30px;text-align:center;font-size:20.5px;"><span style="display:inline-block;">も</span></div>
<div class="a" style="left:573.80px;top:284.60px;width:30px;height:30px;line-height:30px;text-align:center;font-size:20.5px;"><span style="display:inline-block;">記</span></div>
<div class="a" style="left:573.80px;top:307.70px;width:30px;height:30px;line-height:30px;text-align:center;font-size:20.5px;"><span style="display:inline-block;">録</span></div>

<div class="a t" style="left:232.15px;top:389.9px;font-size:25.84px;font-weight:normal;letter-spacing:0.0px;transform:scaleX(1.276);color:#231815;-webkit-text-stroke:0.5px #231815;">kHz</div>
<div class="a t" style="left:302.4px;top:391.0px;font-size:22.0px;font-weight:normal;letter-spacing:-4.96px;color:#231815;">サンプリング</div>
<div class="a t" style="left:415.4px;top:390.9px;font-size:22.0px;font-weight:normal;letter-spacing:1.1px;color:#231815;">周波数</div>
<div class="a t" style="left:230.97px;top:419.9px;font-size:21.43px;font-weight:normal;letter-spacing:0.0px;transform:scaleX(0.767);color:#231815;">1</div>
<div class="a t" style="left:244.6px;top:419.5px;font-size:20.5px;font-weight:normal;letter-spacing:1.05px;color:#231815;">秒間に音を記録する頻度</div>

</body></html>
